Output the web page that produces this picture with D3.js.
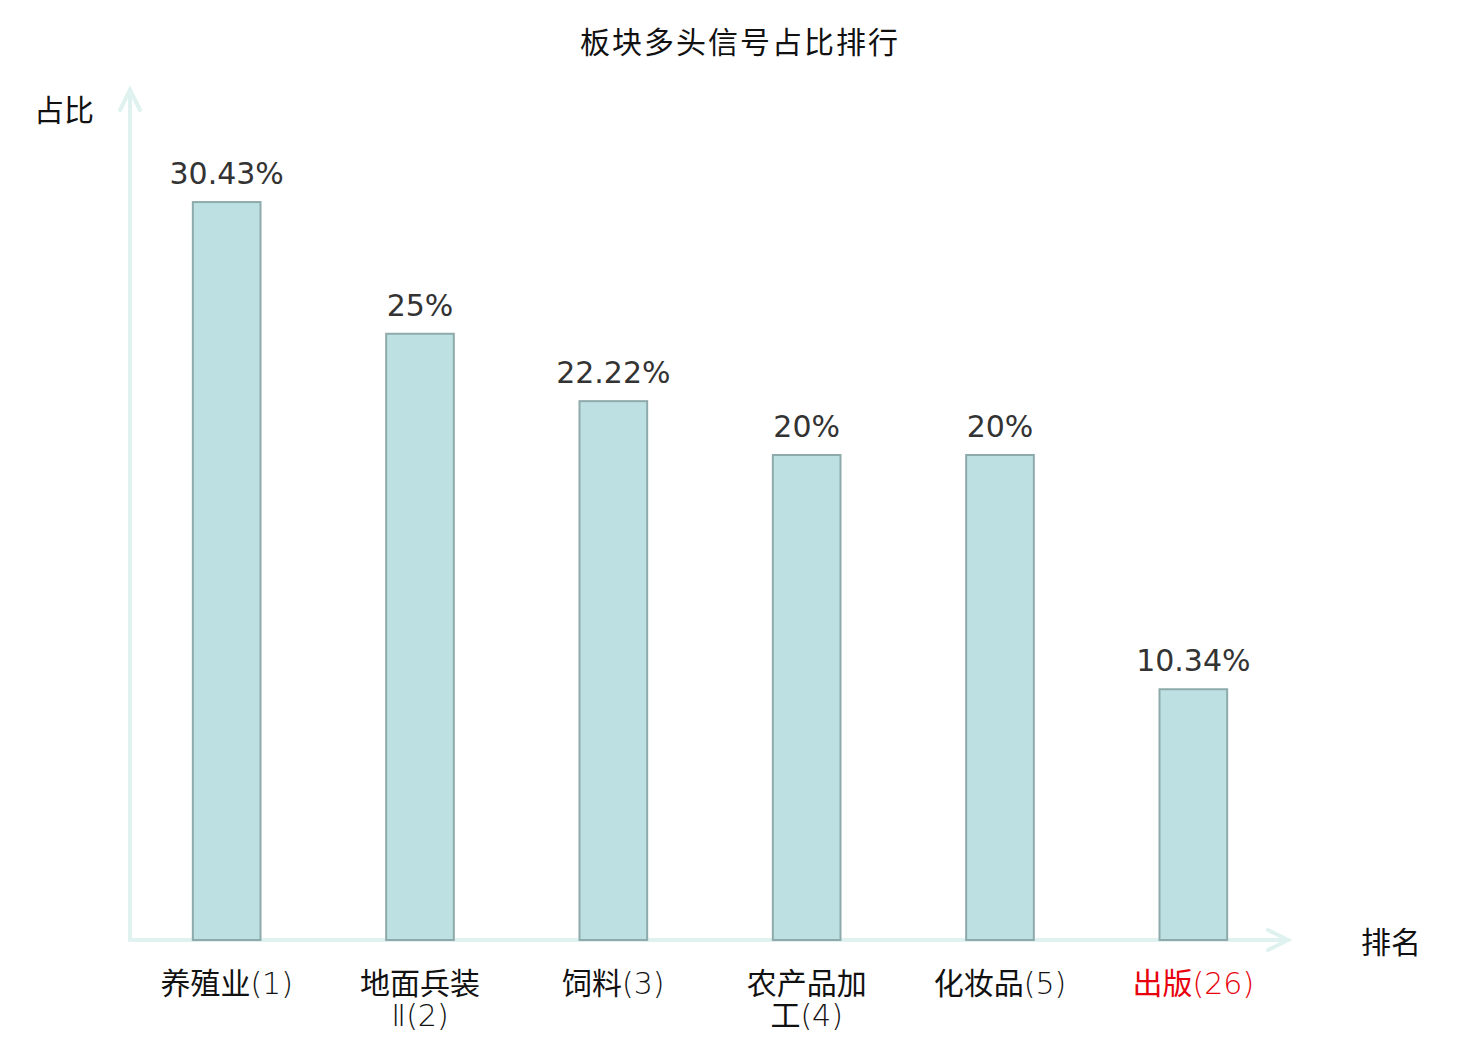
<!DOCTYPE html>
<html>
<head>
<meta charset="utf-8">
<script src="https://cdn.jsdelivr.net/npm/d3@7"></script>
<style>
  body { margin: 0; background: #fff; }
  text { font-family: "Noto Sans CJK SC", "Noto Sans", sans-serif; }
  .value-label { font-family: "DejaVu Sans", sans-serif; }
  .latin { font-family: "DejaVu Sans", sans-serif; font-weight: 200; }
</style>
</head>
<body>
<svg id="chart"></svg>
<script>
// Datos
const categories = ["养殖业(1)", "地面兵装Ⅱ(2)", "饲料(3)", "农产品加工(4)", "化妆品(5)", "出版(26)"];
const values = [30.43, 25, 22.22, 20, 20, 10.34];
const valueLabels = ["30.43%", "25%", "22.22%", "20%", "20%", "10.34%"];
const highlighted = ["出版(26)"];

const W = 1480, H = 1040;
const x0 = 130, x1 = 1290, y0 = 940, yTop = 88;

const svg = d3.select("#chart").attr("width", W).attr("height", H);

// Escalas
const xScale = d3.scaleBand().domain(categories).range([x0, x1]).paddingInner(0.65).paddingOuter(0.325);
const yScale = d3.scaleLinear().domain([0, 35]).range([y0, y0 - 24.25 * 35]);

// Título
svg.append("text")
    .attr("x", W / 2).attr("y", 53)
    .attr("text-anchor", "middle")
    .style("font-size", "30px").style("letter-spacing", "2px")
    .attr("fill", "#111")
    .text("板块多头信号占比排行");

// Ejes con flecha
const axisColor = "#dff2ef";
const axes = svg.append("g").attr("stroke", axisColor).attr("stroke-width", 4).attr("fill", "none")
    .attr("stroke-linecap", "round");
axes.append("line").attr("x1", x0).attr("y1", y0).attr("x2", x0).attr("y2", yTop + 2);
axes.append("path").attr("d", `M${x0 - 10},${yTop + 22}L${x0},${yTop + 2}L${x0 + 10},${yTop + 22}`);
axes.append("line").attr("x1", x0).attr("y1", y0).attr("x2", x1 - 2).attr("y2", y0);
axes.append("path").attr("d", `M${x1 - 22},${y0 - 10}L${x1 - 2},${y0}L${x1 - 22},${y0 + 10}`);

svg.append("text").attr("x", 34).attr("y", 121)
    .style("font-size", "30px").attr("fill", "#111").text("占比");
svg.append("text").attr("x", 1361).attr("y", 953)
    .style("font-size", "30px").attr("fill", "#111").text("排名");

// Barras
svg.append("g").selectAll("rect")
    .data(categories)
    .join("rect")
    .attr("x", d => xScale(d))
    .attr("y", (d, i) => yScale(values[i]))
    .attr("width", xScale.bandwidth())
    .attr("height", (d, i) => y0 - yScale(values[i]))
    .attr("fill", "#bde0e3")
    .attr("stroke", "#8eaaab")
    .attr("stroke-width", 2);

// Etiquetas de valor
svg.append("g").selectAll("text")
    .data(categories)
    .join("text")
    .attr("class", "value-label")
    .attr("x", d => xScale(d) + xScale.bandwidth() / 2)
    .attr("y", (d, i) => yScale(values[i]) - 18)
    .attr("text-anchor", "middle")
    .style("font-size", "30px")
    .attr("fill", "#333")
    .text((d, i) => valueLabels[i]);

// Etiquetas del eje x: CJK + parte latina fina, salto por ancho de caracteres
const isCJK = c => /[\u3000-\u9fff\uff00-\uffef]/.test(c);
const charUnits = c => (isCJK(c) || c === "Ⅱ") ? 2 : 1;
const maxUnits = 9;

function wrapLabel(str) {
    const lines = [];
    let line = "", units = 0;
    Array.from(str).forEach(c => {
        const u = charUnits(c);
        if (units + u > maxUnits && line.length) {
            lines.push(line);
            line = ""; units = 0;
        }
        line += c; units += u;
    });
    if (line) lines.push(line);
    return lines;
}

function renderLine(t, str) {
    const runs = [];
    Array.from(str).forEach(c => {
        const k = isCJK(c);
        if (runs.length && runs[runs.length - 1].k === k) runs[runs.length - 1].s += c;
        else runs.push({ k, s: c });
    });
    runs.forEach(r => t.append("tspan").attr("class", r.k ? null : "latin").text(r.s));
}

const labelG = svg.append("g");
categories.forEach(d => {
    const cx = xScale(d) + xScale.bandwidth() / 2;
    const fill = highlighted.includes(d) ? "#e8000b" : "#111";
    wrapLabel(d).forEach((ln, n) => {
        const t = labelG.append("text")
            .attr("x", cx).attr("y", 994 + n * 32)
            .attr("text-anchor", "middle")
            .style("font-size", "30px")
            .attr("fill", fill);
        renderLine(t, ln);
    });
});
</script>
</body>
</html>
